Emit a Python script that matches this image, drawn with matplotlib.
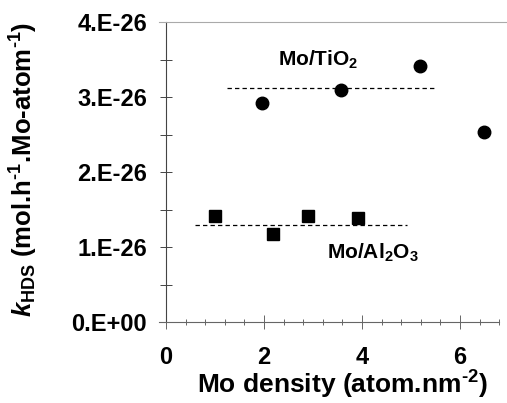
import matplotlib
matplotlib.use('Agg')
import matplotlib.pyplot as plt
from matplotlib.ticker import MultipleLocator, FuncFormatter

plt.rcParams['font.family'] = 'Liberation Sans'
plt.rcParams['font.weight'] = 'bold'
plt.rcParams['axes.labelweight'] = 'bold'
plt.rcParams['mathtext.fontset'] = 'custom'
plt.rcParams['mathtext.rm'] = 'Liberation Sans:bold'
plt.rcParams['mathtext.it'] = 'Liberation Sans:bold:italic'
plt.rcParams['mathtext.bf'] = 'Liberation Sans:bold'

# data
tio2_x = [1.96, 3.57, 5.18, 6.50]
tio2_k = [2.92e-26, 3.09e-26, 3.41e-26, 2.54e-26]
al2o3_x = [1.01, 2.19, 2.90, 3.91]
al2o3_k = [1.41e-26, 1.17e-26, 1.41e-26, 1.39e-26]

# average lines
tio2_avg_x = [1.24, 5.51]
tio2_avg_k = [3.115e-26, 3.115e-26]
al2o3_avg_x = [0.59, 4.91]
al2o3_avg_k = [1.295e-26, 1.295e-26]

fig = plt.figure(figsize=(5.07, 4.03), dpi=100)
ax = fig.add_axes([166/507, 81/403, 341/507, 300/403])

ax.plot(tio2_avg_x, tio2_avg_k, color='black', lw=0.9, dashes=(3.5, 2.5))
ax.plot(al2o3_avg_x, al2o3_avg_k, color='black', lw=0.9, dashes=(3.5, 2.5))
ax.plot(tio2_x, tio2_k, 'o', color='black', ms=9, ls='none')
ax.plot(al2o3_x, al2o3_k, 's', color='black', ms=9, ls='none')

ax.text(3.1, 3.49e-26, r'Mo/TiO$_2$', fontsize=15, ha='center', va='center')
ax.text(4.22, 0.92e-26, r'Mo/Al$_2$O$_3$', fontsize=15, ha='center', va='center')

ax.set_xlim(0, 6.96)
ax.set_ylim(0, 4e-26)

ax.xaxis.set_major_locator(MultipleLocator(2))
ax.xaxis.set_minor_locator(MultipleLocator(0.4))
ax.yaxis.set_major_locator(MultipleLocator(1e-26))
ax.yaxis.set_minor_locator(MultipleLocator(0.5e-26))


def yfmt(v, pos):
    if abs(v) < 1e-30:
        return '0.E+00'
    return '%d.E-26' % round(v / 1e-26)


ax.yaxis.set_major_formatter(FuncFormatter(yfmt))
ax.yaxis.get_offset_text().set_visible(False)
ax.xaxis.get_offset_text().set_visible(False)

ax.spines['right'].set_visible(False)
ax.spines['top'].set_color('#aaaaaa')
ax.spines['top'].set_bounds(-0.14, 6.96)
ax.spines['left'].set_color('#444444')
ax.spines['bottom'].set_color('#666666')
ax.spines['bottom'].set_bounds(-0.14, 6.8)
for s in ['top', 'left', 'bottom']:
    ax.spines[s].set_linewidth(0.8)

ax.tick_params(axis='y', which='major', direction='inout', length=9, width=0.7,
               color='#444444', labelsize=17, pad=9)
ax.tick_params(axis='y', which='minor', direction='inout', length=8, width=0.7,
               color='#444444')
ax.tick_params(axis='x', which='major', direction='inout', length=10, width=0.7,
               color='#666666', labelsize=17, pad=12)
ax.tick_params(axis='x', which='minor', direction='inout', length=5, width=0.7,
               color='#666666')

ax.set_xlabel(r'Mo density (atom.nm$^{\text{-2}}$)', fontsize=19)
ax.set_ylabel(r'$k_{\text{HDS}}$ (mol.h$^{\text{-1}}$.Mo-atom$^{\text{-1}}$)', fontsize=18.5)
ax.xaxis.set_label_coords(0.516, -0.155)
ax.yaxis.set_label_coords(-0.37, 0.51)

fig.savefig('out.png', dpi=100)
